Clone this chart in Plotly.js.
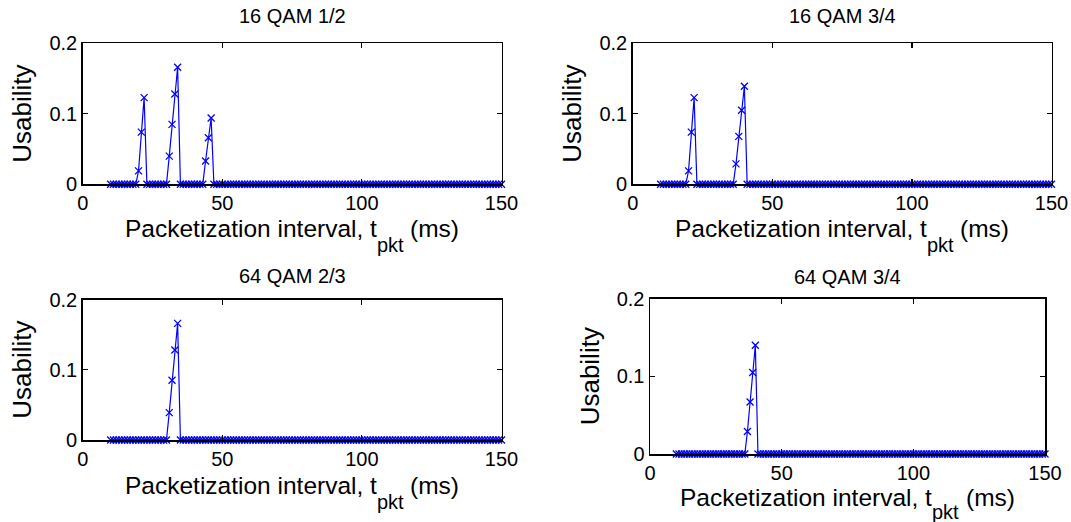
<!DOCTYPE html>
<html>
<head>
<meta charset="utf-8">
<script src="https://cdn.plot.ly/plotly-3.0.1.min.js"></script>
<style>html,body{margin:0;padding:0;background:#fff;}#chart{width:1071px;height:522px;}</style>
</head>
<body>
<div id="chart"></div>
<script>
// Packetization interval t_pkt (ms)
const tpkt = [
  10,11,12,13,14,15,16,17,18,19,
  20,21,22,23,24,25,26,27,28,29,
  30,31,32,33,34,35,36,37,38,39,
  40,41,42,43,44,45,46,47,48,49,
  50,51,52,53,54,55,56,57,58,59,
  60,61,62,63,64,65,66,67,68,69,
  70,71,72,73,74,75,76,77,78,79,
  80,81,82,83,84,85,86,87,88,89,
  90,91,92,93,94,95,96,97,98,99,
  100,101,102,103,104,105,106,107,108,109,
  110,111,112,113,114,115,116,117,118,119,
  120,121,122,123,124,125,126,127,128,129,
  130,131,132,133,134,135,136,137,138,139,
  140,141,142,143,144,145,146,147,148,149,
  150
];

const usab16QAM12 = [
  0,0,0,0,0,0,0,0,0,0,
  0.019,0.074,0.123,0,0,0,0,0,0,0,
  0,0.040,0.085,0.128,0.166,0,0,0,0,0,
  0,0,0,0,0.033,0.066,0.094,0,0,0,
  0,0,0,0,0,0,0,0,0,0,
  0,0,0,0,0,0,0,0,0,0,
  0,0,0,0,0,0,0,0,0,0,
  0,0,0,0,0,0,0,0,0,0,
  0,0,0,0,0,0,0,0,0,0,
  0,0,0,0,0,0,0,0,0,0,
  0,0,0,0,0,0,0,0,0,0,
  0,0,0,0,0,0,0,0,0,0,
  0,0,0,0,0,0,0,0,0,0,
  0,0,0,0,0,0,0,0,0,0,
  0
];

const usab16QAM34 = [
  0,0,0,0,0,0,0,0,0,0,
  0.019,0.074,0.123,0,0,0,0,0,0,0,
  0,0,0,0,0,0,0,0.029,0.068,0.105,
  0.139,0,0,0,0,0,0,0,0,0,
  0,0,0,0,0,0,0,0,0,0,
  0,0,0,0,0,0,0,0,0,0,
  0,0,0,0,0,0,0,0,0,0,
  0,0,0,0,0,0,0,0,0,0,
  0,0,0,0,0,0,0,0,0,0,
  0,0,0,0,0,0,0,0,0,0,
  0,0,0,0,0,0,0,0,0,0,
  0,0,0,0,0,0,0,0,0,0,
  0,0,0,0,0,0,0,0,0,0,
  0,0,0,0,0,0,0,0,0,0,
  0
];

const usab64QAM23 = [
  0,0,0,0,0,0,0,0,0,0,
  0,0,0,0,0,0,0,0,0,0,
  0,0.039,0.085,0.128,0.166,0,0,0,0,0,
  0,0,0,0,0,0,0,0,0,0,
  0,0,0,0,0,0,0,0,0,0,
  0,0,0,0,0,0,0,0,0,0,
  0,0,0,0,0,0,0,0,0,0,
  0,0,0,0,0,0,0,0,0,0,
  0,0,0,0,0,0,0,0,0,0,
  0,0,0,0,0,0,0,0,0,0,
  0,0,0,0,0,0,0,0,0,0,
  0,0,0,0,0,0,0,0,0,0,
  0,0,0,0,0,0,0,0,0,0,
  0,0,0,0,0,0,0,0,0,0,
  0
];

const usab64QAM34 = [
  0,0,0,0,0,0,0,0,0,0,
  0,0,0,0,0,0,0,0,0,0,
  0,0,0,0,0,0,0,0.029,0.067,0.105,
  0.140,0,0,0,0,0,0,0,0,0,
  0,0,0,0,0,0,0,0,0,0,
  0,0,0,0,0,0,0,0,0,0,
  0,0,0,0,0,0,0,0,0,0,
  0,0,0,0,0,0,0,0,0,0,
  0,0,0,0,0,0,0,0,0,0,
  0,0,0,0,0,0,0,0,0,0,
  0,0,0,0,0,0,0,0,0,0,
  0,0,0,0,0,0,0,0,0,0,
  0,0,0,0,0,0,0,0,0,0,
  0,0,0,0,0,0,0,0,0,0,
  0
];

const panelTitles = ["16 QAM 1/2", "16 QAM 3/4", "64 QAM 2/3", "64 QAM 3/4"];
const xTickVals = [0, 50, 100, 150];
const xTickText = ["0", "50", "100", "150"];
const yTickVals = [0, 0.1, 0.2];
const yTickText = ["0", "0.1", "0.2"];
// x-axis label pieces: main text, subscript, tail
const xLabelMain = "Packetization interval, t";
const xLabelSub = "pkt";
const xLabelTail = "(ms)";
const yLabel = "Usability";

const series = [usab16QAM12, usab16QAM34, usab64QAM23, usab64QAM34];

const W = 1071, H = 522;
// pixel boxes [left, right, top, bottom]
const boxes = [
  [82.7, 501.5, 43.3, 184.3],
  [632.7, 1051.5, 43.3, 184.3],
  [82.7, 501.5, 299.5, 440],
  [650, 1045, 298.7, 454]
];
const titleY = [16, 16, 276, 277];
const xLabY = [228, 228, 485, 497];
const subDrop = [17, 17, 17, 15];
const yLabX = [22, 572, 22, 590];

const font = "Liberation Sans, Arial, Helvetica, sans-serif";
const blue = "rgb(0,0,255)";
const fsMain = 24.5, fsSub = 20;
// Arial/Liberation Sans advance widths (em)
const wMain = 10.282 * fsMain, wSub = 1.334 * fsSub, wSp = 0.278 * fsMain, wTail = 2.0 * fsMain;
const wTotal = wMain + wSub + wSp + wTail;

const data = [];
const layout = {
  width: W, height: H,
  margin: {l: 0, r: 0, t: 0, b: 0},
  paper_bgcolor: "#fff", plot_bgcolor: "#fff",
  showlegend: false,
  font: {family: font, color: "#000"},
  annotations: []
};

function ann(text, xpx, ypx, size, anchor, extra) {
  return Object.assign({
    text: text, xref: "paper", yref: "paper",
    x: xpx / W, y: 1 - ypx / H, xanchor: anchor, yanchor: "middle",
    showarrow: false, borderpad: 0, borderwidth: 0,
    font: {family: font, size: size, color: "#000"}
  }, extra || {});
}

series.forEach((ys, i) => {
  const n = i + 1;
  const sfx = n === 1 ? "" : String(n);
  data.push({
    x: tpkt, y: ys, type: "scatter", mode: "lines+markers",
    xaxis: "x" + sfx, yaxis: "y" + sfx,
    line: {color: blue, width: 1.2},
    marker: {symbol: "x-thin-open", size: 7, color: blue, line: {color: blue, width: 1.3}},
    cliponaxis: false
  });
  const b = boxes[i];
  const common = {
    showline: true, linecolor: "#000", linewidth: 1.5, mirror: "ticks",
    ticks: "inside", ticklen: 5, tickcolor: "#000", tickwidth: 1.2,
    showgrid: false, zeroline: false, fixedrange: true,
    tickfont: {family: font, size: 20, color: "#000"}
  };
  layout["xaxis" + sfx] = Object.assign({}, common, {
    domain: [b[0] / W, b[1] / W], range: [0, 150],
    tickvals: xTickVals, ticktext: xTickText,
    anchor: "y" + sfx
  });
  layout["yaxis" + sfx] = Object.assign({}, common, {
    domain: [1 - b[3] / H, 1 - b[2] / H], range: [0, 0.2],
    tickvals: yTickVals, ticktext: yTickText,
    anchor: "x" + sfx
  });
  const cxPx = (b[0] + b[1]) / 2;
  layout.annotations.push(ann(panelTitles[i], cxPx, titleY[i], 20, "center"));
  const start = cxPx - wTotal / 2;
  layout.annotations.push(ann(xLabelMain, start, xLabY[i], fsMain, "left"));
  layout.annotations.push(ann(xLabelSub, start + wMain, xLabY[i] + subDrop[i], fsSub, "left"));
  layout.annotations.push(ann(xLabelTail, start + wMain + wSub + wSp, xLabY[i], fsMain, "left"));
  layout.annotations.push(ann(yLabel, yLabX[i], (b[2] + b[3]) / 2, 26, "center", {textangle: -90}));
});

Plotly.newPlot("chart", data, layout, {displayModeBar: false, staticPlot: true});
</script>
</body>
</html>
